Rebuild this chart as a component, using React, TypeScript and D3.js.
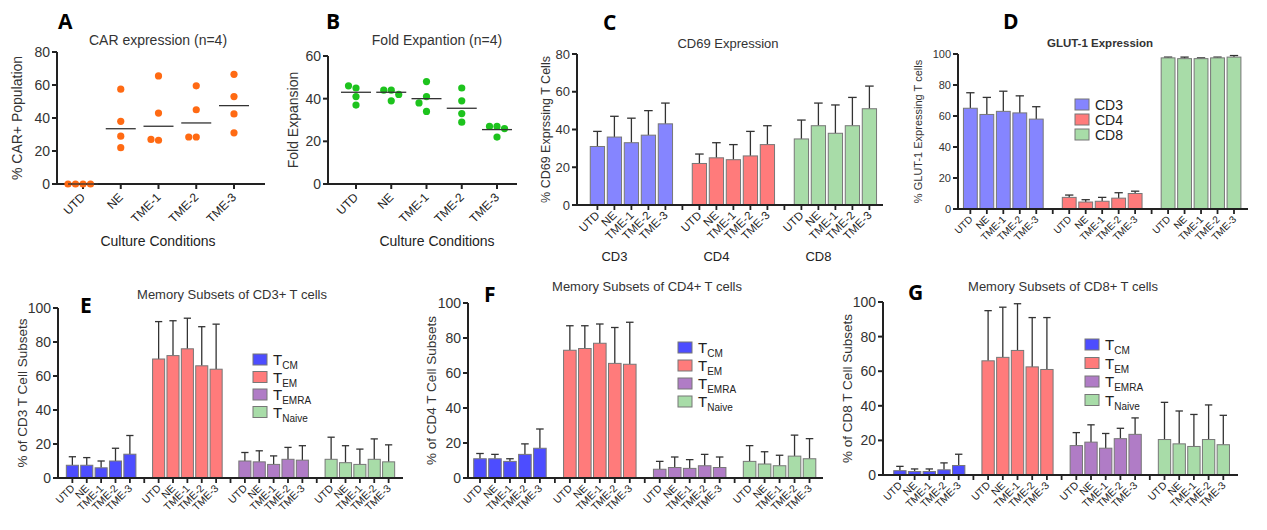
import * as d3 from "d3";

const conditions = ["UTD", "NE", "TME-1", "TME-2", "TME-3"];

// Panel A: % CAR+ (n=4)
const carValues = [
  [0, 0, 0, 0],
  [57.5, 38, 29, 22],
  [65.5, 43, 26.5, 27],
  [59.5, 45, 28.5, 28.5],
  [66.5, 53, 42.5, 31],
];
const carMeans = [0, 33.5, 35, 37, 47.5];

// Panel B: fold expansion (n=4)
const foldValues = [
  [45, 46, 41, 37],
  [44, 44, 42, 39],
  [48, 41, 38, 34],
  [45, 39, 33, 29],
  [27, 27, 26, 22],
];
const foldMeans = [43, 43, 40, 35.5, 25.5];

// Panel C: CD69 mean / upper error
const cd69Groups = ["CD3", "CD4", "CD8"];
const cd69Mean = [
  [31, 36, 33, 37, 43],
  [22, 25, 24, 26, 32],
  [35, 42, 38, 42, 51],
];
const cd69Top = [
  [39, 47, 46, 50, 54],
  [27, 33, 32, 39, 42],
  [45, 54, 53, 57, 63],
];

// Panel D: GLUT-1
const glutMean = [
  [65, 61, 63, 62, 58],
  [7.5, 4.5, 5, 7, 10],
  [97.5, 97, 97, 97.5, 98],
];
const glutTop = [
  [75, 72, 76, 73, 66],
  [9, 6, 7.5, 10.5, 11.5],
  [98, 98, 97.5, 98, 99],
];

// Panels E-G: memory subsets
const subsets = ["CM", "EM", "EMRA", "Naive"];
const cd3Mean = [
  [7.5, 7.5, 6, 10, 14],
  [70, 72, 76, 66, 64],
  [10, 9.5, 8, 11, 10.5],
  [11, 9, 8, 11, 9.5],
];
const cd3Top = [
  [12.5, 12, 10, 17.5, 25],
  [92, 92.5, 94, 89, 90.5],
  [15, 16, 13, 18, 19],
  [24, 19, 17, 23, 19.5],
];
const cd4Mean = [
  [11, 11, 9.5, 13.5, 17],
  [73, 74, 77, 65.5, 65],
  [5, 6, 5.5, 7, 6],
  [9.5, 8, 7, 12.5, 11],
];
const cd4Top = [
  [14, 13.5, 11, 19.5, 28],
  [87, 87, 88, 86, 89],
  [9.5, 12, 10.5, 13.5, 12],
  [18.5, 15, 13, 24.5, 22.5],
];
const cd8Mean = [
  [2.5, 2, 2, 3, 5.5],
  [66, 68, 72, 62.5, 61],
  [17, 19, 15.5, 21, 23.5],
  [20.5, 18, 16.5, 20.5, 17.5],
];
const cd8Top = [
  [5, 3.5, 3.5, 7, 12],
  [95, 97, 99, 91, 91],
  [24.5, 29, 24, 27, 33],
  [42, 37, 35, 40.5, 34.5],
];

const FONT = "Liberation Sans, Arial, sans-serif";
const LIGHTBLUE = "#8585ff";
const BLUE = "#4d4dff";
const RED = "#ff7b7b";
const PURPLE = "#b07cc6";
const GREEN = "#a8dca8";

function YAxis({ y, x, ticks, size, right }: any) {
  const [y0, y1] = y.range();
  return (
    <g>
      <line x1={x} x2={x} y1={y0} y2={y1} stroke="#222" strokeWidth={2} />
      <line x1={x} x2={right} y1={y0} y2={y0} stroke="#222" strokeWidth={2} />
      {ticks.map((t: number) => (
        <g key={t}>
          <line x1={x - 5} x2={x} y1={y(t)} y2={y(t)} stroke="#222" strokeWidth={2} />
          <text x={x - 7} y={y(t)} dy="0.35em" textAnchor="end" fontSize={size} fill="#333">
            {t}
          </text>
        </g>
      ))}
    </g>
  );
}

function RotLabels({ xs, y, labels, size }: any) {
  return (
    <g>
      {labels.map((l: string, i: number) => (
        <text
          key={i}
          transform={`translate(${xs[i] + 3},${y}) rotate(-45)`}
          textAnchor="end"
          fontSize={size}
          fill="#222"
        >
          {l}
        </text>
      ))}
    </g>
  );
}

function swarm(vals: number[], y: any, step: number) {
  const placed: { py: number; dx: number }[] = [];
  return vals.map((v) => {
    const py = y(v);
    const offs = [0, -step, step, -2 * step, 2 * step];
    let dx = 0;
    for (const o of offs) {
      if (!placed.some((p) => Math.abs(p.py - py) < step && Math.abs(p.dx - o) < step)) {
        dx = o;
        break;
      }
    }
    placed.push({ py, dx });
    return dx;
  });
}

function Scatter({ cfg }: any) {
  const y = d3.scaleLinear().domain([0, cfg.max]).range([cfg.y0, cfg.y1]);
  const x = d3.scalePoint().domain(conditions).range([cfg.x0, cfg.x1]);
  return (
    <g fontFamily={FONT}>
      <YAxis y={y} x={cfg.ax} ticks={d3.range(0, cfg.max + 1, 20)} size={14} right={cfg.right} />
      {conditions.map((c, i) => {
        const cx = x(c)!;
        const dxs = swarm(cfg.vals[i], y, 7.5);
        return (
          <g key={c}>
            <line x1={cx} x2={cx} y1={cfg.y0} y2={cfg.y0 + 5} stroke="#222" strokeWidth={2} />
            {cfg.vals[i].map((v: number, j: number) => (
              <circle key={j} cx={cx + dxs[j]} cy={y(v)} r={3.6} fill={cfg.color} />
            ))}
            <line x1={cx - 15} x2={cx + 15} y1={y(cfg.means[i])} y2={y(cfg.means[i])} stroke="#333" strokeWidth={1.3} />
          </g>
        );
      })}
      <RotLabels xs={conditions.map((c) => x(c)!)} y={cfg.y0 + 14} labels={conditions} size={12} />
      <text x={cfg.tx} y={45} textAnchor="middle" fontSize={14} fill="#333">{cfg.title}</text>
      <text x={cfg.tx} y={246} textAnchor="middle" fontSize={14} fill="#222">Culture Conditions</text>
      <text transform={`translate(${cfg.lx},${(cfg.y0 + cfg.y1) / 2}) rotate(-90)`} textAnchor="middle" fontSize={14} fill="#333">
        {cfg.ylabel}
      </text>
      <text x={cfg.letter[0]} y={cfg.letter[1]} fontSize={21} fontWeight="bold" fontFamily="Open Sans, sans-serif">{cfg.letterText}</text>
    </g>
  );
}

function Bars({ cfg }: any) {
  const y = d3.scaleLinear().domain([0, cfg.max]).range([cfg.y0, cfg.y1]);
  const nG = cfg.mean.length;
  const x = d3.scaleLinear().domain(cfg.dom).range([cfg.ax, cfg.right]);
  const step = x(1) - x(0);
  const bw = step * 0.84;
  const slots = d3.range(nG * 6 - 1);
  const xs: number[] = [];
  const labels: string[] = [];
  return (
    <g fontFamily={FONT}>
      {cfg.mean.map((grp: number[], g: number) =>
        grp.map((v: number, i: number) => {
          const cx = x(g * 6 + i);
          xs.push(cx);
          labels.push(conditions[i]);
          const top = cfg.top[g][i];
          return (
            <g key={`${g}-${i}`}>
              <line x1={cx} x2={cx} y1={y(v)} y2={y(top)} stroke="#333" strokeWidth={1.3} />
              <line x1={cx - bw * 0.3} x2={cx + bw * 0.3} y1={y(top)} y2={y(top)} stroke="#333" strokeWidth={1.3} />
              <rect x={cx - bw / 2} y={y(v)} width={bw} height={cfg.y0 - y(v)} fill={cfg.colors[g]} stroke="#777" strokeWidth={1} />
            </g>
          );
        })
      )}
      <YAxis y={y} x={cfg.ax} ticks={d3.range(0, cfg.max + 1, 20)} size={cfg.tickSize} right={cfg.right} />
      {slots.map((s) => (
        <line key={s} x1={x(s)} x2={x(s)} y1={cfg.y0} y2={cfg.y0 + 5} stroke="#222" strokeWidth={1.8} />
      ))}
      <RotLabels xs={xs} y={cfg.y0 + 11} labels={labels} size={cfg.catSize} />
      <text x={cfg.tx} y={cfg.ty} textAnchor="middle" fontSize={cfg.titleSize} fontWeight={cfg.titleBold ? "bold" : "normal"} fill="#333">
        {cfg.title}
      </text>
      <text transform={`translate(${cfg.lx},${(cfg.y0 + cfg.y1) / 2}) rotate(-90)`} textAnchor="middle" fontSize={cfg.labelSize} fill="#333">
        {cfg.ylabel}
      </text>
      <text x={cfg.letter[0]} y={cfg.letter[1]} fontSize={21} fontWeight="bold" fontFamily="Open Sans, sans-serif">{cfg.letterText}</text>
      {cfg.groupLabels &&
        cfg.groupLabels.map((l: string, g: number) => (
          <text key={l} x={x(g * 6 + 1)} y={cfg.y0 + 56} textAnchor="middle" fontSize={13} fill="#222">{l}</text>
        ))}
      {cfg.legend &&
        cfg.legend.map((l: string, i: number) => (
          <g key={l} transform={`translate(${cfg.legPos[0]},${cfg.legPos[1] + i * cfg.legStep})`}>
            <rect x={0} y={-6} width={14} height={11} fill={cfg.colors[i]} stroke="#777" />
            {cfg.sub ? (
              <text x={20} y={0} dy="0.35em" fontSize={15} fill="#222">
                T<tspan fontSize={10} dy={4}>{l}</tspan>
              </text>
            ) : (
              <text x={20} y={0} dy="0.35em" fontSize={14} fill="#222">{l}</text>
            )}
          </g>
        ))}
    </g>
  );
}

const memColors = [BLUE, RED, PURPLE, GREEN];

export default function App() {
  return (
    <svg width={1267} height={530} style={{ position: "absolute", left: 0, top: 0, background: "#fff" }}>
      <Scatter
        cfg={{ max: 80, y0: 184, y1: 52, x0: 83, x1: 234, ax: 57, right: 265, vals: carValues, means: carMeans, color: "#ff6a13",
          title: "CAR expression (n=4)", tx: 158, ylabel: "% CAR+ Population", lx: 22, letter: [58, 29], letterText: "A" }}
      />
      <Scatter
        cfg={{ max: 60, y0: 184, y1: 56, x0: 356, x1: 497, ax: 328, right: 517, vals: foldValues, means: foldMeans, color: "#1dc31d",
          title: "Fold Expantion (n=4)", tx: 437, ylabel: "Fold Expansion", lx: 298, letter: [326, 29], letterText: "B" }}
      />
      <Bars
        cfg={{ max: 80, y0: 205, y1: 54, ax: 577, right: 883, dom: [-1.2, 16.8], mean: cd69Mean, top: cd69Top,
          colors: [LIGHTBLUE, RED, GREEN], tickSize: 13, catSize: 11.5, title: "CD69  Expression", tx: 728, ty: 48, titleSize: 13,
          ylabel: "% CD69 Exprssing T Cells", lx: 550, labelSize: 12.5, letter: [603, 30], letterText: "C", groupLabels: cd69Groups }}
      />
      <Bars
        cfg={{ max: 100, y0: 209, y1: 54, ax: 958, right: 1248, dom: [-0.75, 16.85], mean: glutMean, top: glutTop,
          colors: [LIGHTBLUE, RED, GREEN], tickSize: 11, catSize: 10, title: "GLUT-1 Expression", tx: 1100, ty: 47, titleSize: 11.5, titleBold: true,
          ylabel: "% GLUT-1 Expressing T cells", lx: 922, labelSize: 11, letter: [1003, 29], letterText: "D",
          legend: cd69Groups, legPos: [1075, 105], legStep: 15 }}
      />
      <Bars
        cfg={{ max: 100, y0: 478, y1: 308, ax: 58, right: 403, dom: [-1, 23], mean: cd3Mean, top: cd3Top,
          colors: memColors, tickSize: 14, catSize: 10.5, title: "Memory Subsets of CD3+ T cells", tx: 232, ty: 299, titleSize: 13,
          ylabel: "% of CD3 T Cell Subsets", lx: 27, labelSize: 13.5, letter: [80, 313], letterText: "E",
          legend: subsets, legPos: [253, 360], legStep: 17.5, sub: true }}
      />
      <Bars
        cfg={{ max: 100, y0: 478, y1: 303, ax: 468, right: 823, dom: [-0.8, 22.9], mean: cd4Mean, top: cd4Top,
          colors: memColors, tickSize: 14, catSize: 10.5, title: "Memory Subsets of CD4+ T cells", tx: 647, ty: 291, titleSize: 13,
          ylabel: "% of CD4 T Cell Subsets", lx: 436, labelSize: 13.5, letter: [484, 302], letterText: "F",
          legend: subsets, legPos: [678, 348], legStep: 18, sub: true }}
      />
      <Bars
        cfg={{ max: 100, y0: 475, y1: 302, ax: 883, right: 1238, dom: [-1.15, 23], mean: cd8Mean, top: cd8Top,
          colors: memColors, tickSize: 14, catSize: 10.5, title: "Memory Subsets of CD8+ T cells", tx: 1063, ty: 291, titleSize: 13,
          ylabel: "% of CD8 T Cell Subsets", lx: 852, labelSize: 13.5, letter: [908, 300], letterText: "G",
          legend: subsets, legPos: [1085, 345], legStep: 18.5, sub: true }}
      />
    </svg>
  );
}
